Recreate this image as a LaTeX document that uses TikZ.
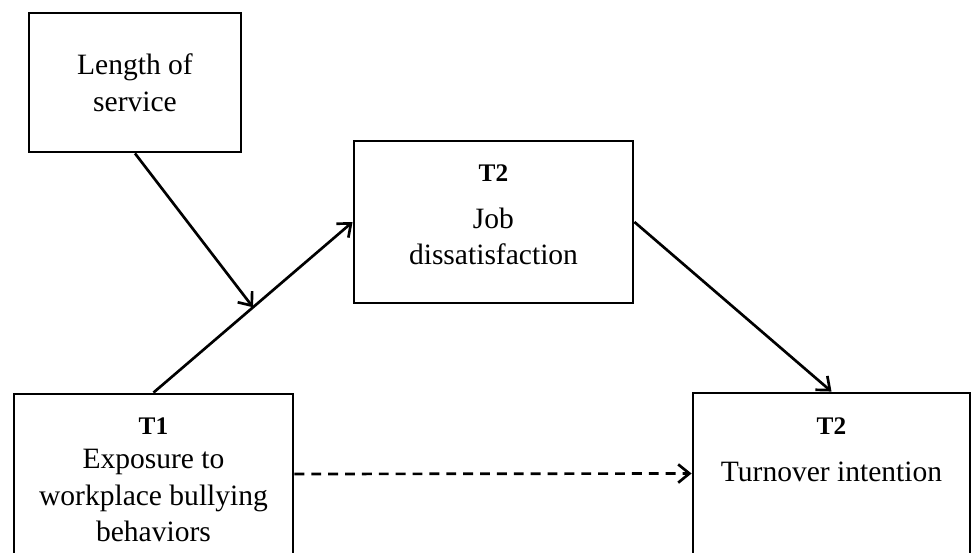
\documentclass[tikz,border=0pt]{standalone}
\usepackage{fontspec}
\setmainfont{Liberation Serif}
\usetikzlibrary{arrows.meta,positioning}

\tikzset{
  varbox/.style={draw, line width=2pt, rectangle, align=center, inner sep=0pt,
    font=\fontsize{21}{26}\selectfont},
  lbl/.style={align=center, inner sep=0pt, font=\fontsize{21}{26}\selectfont},
  link/.style={line width=1.9pt, -{Straight Barb[length=8pt,width=13pt,line width=1.9pt]}},
}
\newcommand{\tlab}[1]{{\bfseries\fontsize{18}{20}\selectfont #1}}

\begin{document}
\begin{tikzpicture}[x=0.025cm, y=-0.025cm]
  \useasboundingbox (0,0) rectangle (972,552);
  \clip (0,0) rectangle (972,552);
  % variables
  \node[varbox, minimum width=5.3cm, minimum height=3.475cm] (len) at (135,82.5) {Length of\\service};
  \node[varbox, minimum width=6.975cm, minimum height=4.05cm] (job) at (493.5,222) {};
  \node[lbl] (jobtxt) at (493.5,215) {\tlab{T2}\\[7pt]Job\\dissatisfaction};
  \node[varbox, minimum width=6.975cm, minimum height=4.5cm] (t1) at (153.5,484) {};
  \node[lbl] (t1txt) at (153.5,480) {\tlab{T1}\\[-2pt]Exposure to\\workplace bullying\\behaviors};
  \node[varbox, minimum width=6.925cm, minimum height=4.525cm] (turn) at (831.5,483.5) {};
  \node[lbl, below=0.65cm of turn.north] (turntxt) {\tlab{T2}\\[7pt]Turnover intention};
  % paths
  \path (t1.north) -- (job.west) coordinate[pos=0.5] (mod);
  \draw[link] (t1.north) -- (job.west);
  \draw[link] (len.south) -- (mod);
  \draw[link] (job.east) -- (turn.north);
  \draw[link, dash pattern=on 7pt off 5pt] ([yshift=0.25cm]t1.east) -- ([yshift=0.25cm]turn.west);
\end{tikzpicture}
\end{document}
